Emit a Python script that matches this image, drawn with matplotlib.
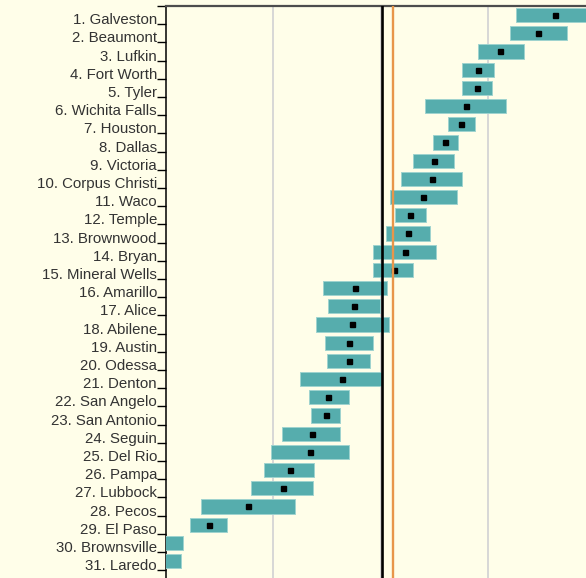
import matplotlib
matplotlib.use("Agg")
import matplotlib.pyplot as plt

cities = ["Galveston", "Beaumont", "Lufkin", "Fort Worth", "Tyler", "Wichita Falls",
          "Houston", "Dallas", "Victoria", "Corpus Christi", "Waco", "Temple",
          "Brownwood", "Bryan", "Mineral Wells", "Amarillo", "Alice", "Abilene",
          "Austin", "Odessa", "Denton", "San Angelo", "San Antonio", "Seguin",
          "Del Rio", "Pampa", "Lubbock", "Pecos", "El Paso", "Brownsville", "Laredo"]
low = [1.26, 1.20, 0.90, 0.75, 0.75, 0.41, 0.62, 0.48, 0.30, 0.19, 0.08, 0.13,
       0.05, -0.07, -0.07, -0.54, -0.49, -0.60, -0.52, -0.50, -0.75, -0.67, -0.65, -0.92,
       -1.02, -1.09, -1.21, -1.67, -1.78, -2.30, -2.30]
high = [2.10, 1.73, 1.33, 1.05, 1.03, 1.16, 0.87, 0.72, 0.68, 0.75, 0.71, 0.42,
        0.46, 0.51, 0.30, 0.06, -0.01, 0.07, -0.07, -0.10, 0.01, -0.30, -0.38, -0.38,
        -0.30, -0.62, -0.63, -0.80, -1.43, -1.84, -1.86]
mid = [1.62, 1.46, 1.11, 0.90, 0.89, 0.79, 0.74, 0.60, 0.49, 0.47, 0.39, 0.27,
       0.25, 0.22, 0.12, -0.24, -0.25, -0.27, -0.30, -0.30, -0.36, -0.49, -0.51, -0.64,
       -0.66, -0.85, -0.91, -1.24, -1.60, -2.10, -2.12]
state_avg = 0.01
reference = 0.116

bg = "#fffee9"
W, H = 586, 578
row_px = 18.2
fig = plt.figure(figsize=(W / 100, H / 100), dpi=100, facecolor=bg)
# axes runs off the bottom of the figure, only the first rows are shown
ax = fig.add_axes([166 / W, 0, (W - 166) / W, (H - 6) / H], facecolor=bg)

rows = list(range(1, len(cities) + 1))
ax.barh(rows, [h - l for l, h in zip(low, high)], left=low, height=0.77,
        color="#56adad", edgecolor="#9fd3cf", linewidth=0.7, zorder=3)
ax.plot(mid, rows, linestyle="none", marker="s", markersize=3.6,
        color="black", zorder=4)

for g in [-1, 0, 1]:
    ax.axvline(g, color="#d4d4d4", linewidth=1.3, zorder=1)
ax.axvline(state_avg, color="black", linewidth=1.9, zorder=5)
ax.axvline(reference, color="#e8964a", linewidth=1.7, zorder=5)

# ticks sit between rows, each label rests on the tick below its row
labels = [""] + ["%d. %s" % (i, c) for i, c in enumerate(cities, 1)]
ax.set_yticks([r + 0.5 for r in range(0, len(cities) + 1)])
ax.set_yticklabels(labels, fontsize=10.8, color="#333333", family="Liberation Sans")
for lab in ax.get_yticklabels():
    lab.set_verticalalignment("baseline")
ax.tick_params(axis="y", length=6.5, width=1.0, pad=0, color="black")
ax.set_xticks([])

# set limits after the ticks so set_yticks can't widen them
ax.set_xlim(-2, 1.907)
ax.set_ylim(0.5 + (H - 6) / row_px, 0.5)

# next row's label, mostly below the figure edge
ax.text(-9 / (W - 166), len(cities) + 1.5, "32.", transform=ax.get_yaxis_transform(),
        ha="right", va="baseline", fontsize=10.8, color="#333333",
        family="Liberation Sans", clip_on=False)

ax.spines["right"].set_visible(False)
ax.spines["bottom"].set_visible(False)
ax.spines["top"].set_color("#4d4d4d")
ax.spines["top"].set_linewidth(1.6)
ax.spines["left"].set_color("black")
ax.spines["left"].set_linewidth(1.1)

plt.savefig("out.png", dpi=100, facecolor=bg)
